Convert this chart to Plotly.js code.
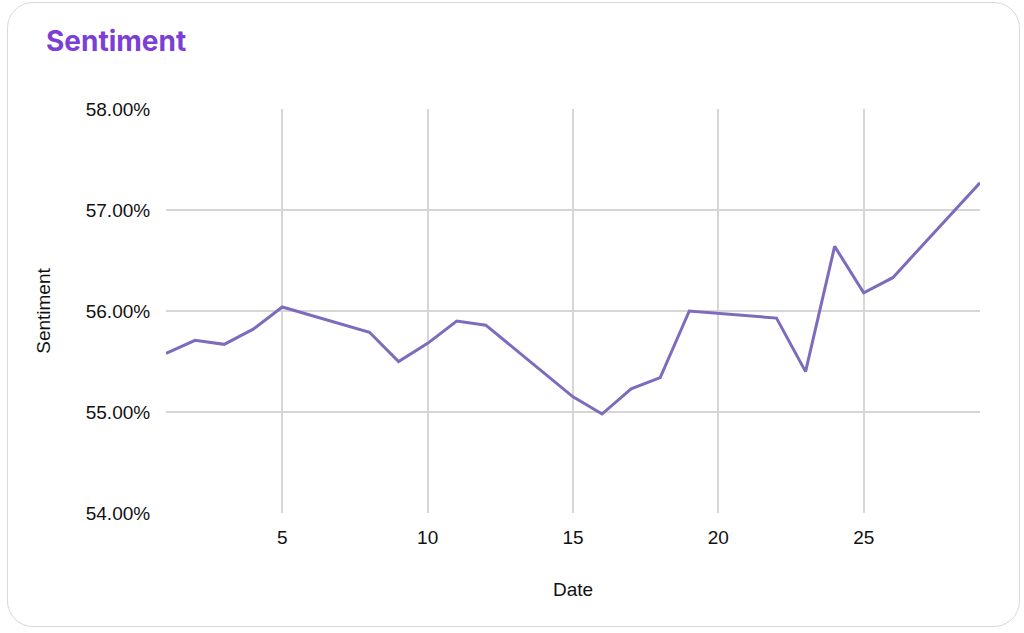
<!DOCTYPE html>
<html>
<head>
<meta charset="utf-8">
<script src="https://cdn.plot.ly/plotly-3.0.1.min.js"></script>
<style>
  html, body { margin:0; padding:0; background:#ffffff; }
  #wrap { position:relative; width:1024px; height:633px; overflow:hidden; }
  #card { position:absolute; left:7px; top:2px; width:1011px; height:623px; border:1.5px solid #d9d9d9; border-radius:26px; box-sizing:content-box; }
  #chart { position:absolute; left:0; top:0; width:1024px; height:633px; }
</style>
</head>
<body>
<div id="wrap">
  <div id="card"></div>
  <div id="chart"></div>
</div>
<script>
const dates = [1, 2, 3, 4, 5, 8, 9, 10, 11, 12, 15, 16, 17, 18, 19, 22, 23, 24, 25, 26, 29];
const sentiment = [55.58, 55.71, 55.67, 55.82, 56.04, 55.79, 55.50, 55.68, 55.90, 55.86, 55.15, 54.98, 55.23, 55.34, 56.00, 55.93, 55.40, 56.64, 56.18, 56.33, 57.27];
const yTicks = [54, 55, 56, 57, 58];
const xTicks = [5, 10, 15, 20, 25];

const trace = {
  x: dates,
  y: sentiment,
  type: 'scatter',
  mode: 'lines',
  line: { color: '#7e6bbd', width: 3 },
  hoverinfo: 'x+y'
};

const layout = {
  width: 1024,
  height: 633,
  paper_bgcolor: 'rgba(0,0,0,0)',
  plot_bgcolor: 'rgba(0,0,0,0)',
  margin: { l: 166, r: 44, t: 109, b: 120 },
  showlegend: false,
  font: { family: 'Liberation Sans, Arial, sans-serif', color: '#111111', size: 19 },
  title: {
    text: '<b>Sentiment</b>',
    font: { family: 'Inter, sans-serif', size: 28, color: '#7b3fd8' },
    xref: 'container', x: 46 / 1024, xanchor: 'left',
    yref: 'container', y: 1 - 41 / 633, yanchor: 'middle'
  },
  xaxis: {
    range: [1, 29],
    tickvals: xTicks,
    ticktext: xTicks.map(String),
    showgrid: true,
    gridcolor: '#d6d6d6',
    gridwidth: 2,
    zeroline: false,
    showline: false,
    ticks: 'outside',
    ticklen: 7,
    tickcolor: 'rgba(0,0,0,0)',
    tickfont: { size: 19, color: '#111111' },
    title: { text: 'Date', font: { size: 19, color: '#111111' }, standoff: 35 }
  },
  yaxis: {
    range: [54, 58],
    tickvals: yTicks,
    ticktext: yTicks.map(v => v.toFixed(2) + '%'),
    showgrid: true,
    gridcolor: '#d6d6d6',
    gridwidth: 2,
    zeroline: false,
    showline: false,
    ticks: 'outside',
    ticklen: 11,
    tickcolor: 'rgba(0,0,0,0)',
    tickfont: { size: 19, color: '#111111' },
    title: { text: 'Sentiment', font: { size: 19, color: '#111111' }, standoff: 30 }
  }
};

Plotly.newPlot('chart', [trace], layout, { displayModeBar: false, staticPlot: true });
</script>
</body>
</html>
